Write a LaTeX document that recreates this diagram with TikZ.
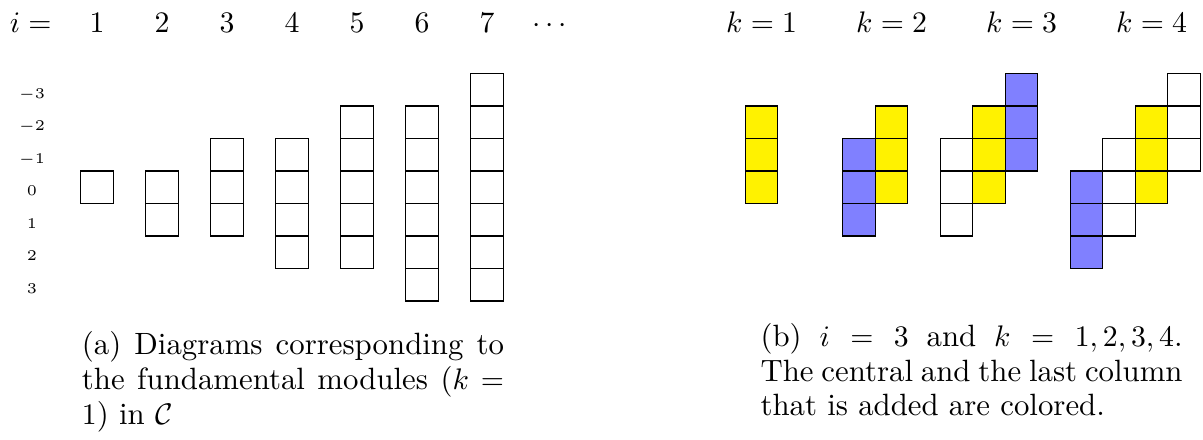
\documentclass[tikz,border=0pt]{standalone}
\usepackage{amsmath,amssymb}
\usepackage{tikz}
\usetikzlibrary{positioning}
\newcommand\capfont{\fontsize{10.35}{11.75}\selectfont}
\tikzset{
  cellbox/.style={draw=black,line width=0.4pt,fill=white},
  ycell/.style={cellbox,fill=yellow},
  bcell/.style={cellbox,fill=blue!50},
  toplab/.style={anchor=base,font=\capfont,inner sep=0pt},
  rowlab/.style={anchor=base,font=\fontsize{5.2}{6}\selectfont,inner sep=0pt},
  capt/.style={anchor=base west,text width=141.8pt,align=justify,inner sep=0pt,font=\capfont},
}

\begin{document}
\begin{tikzpicture}[x=10.92pt,y=10.92pt]
\useasboundingbox (-2.483,5.262) rectangle (34.532,-8.246);
% (a) one column per i, rows -floor((i-1)/2) .. ceil((i-1)/2)
\node[toplab,anchor=base east] (ieq) at (-0.88,4.277) {$i=$};
\foreach \i in {1,...,7}{
  \pgfmathtruncatemacro\lo{-floor((\i-1)/2)}
  \pgfmathtruncatemacro\hi{ceil((\i-1)/2)}
  \foreach \r in {\lo,...,\hi} \draw[cellbox] ({2*(\i-1)},-\r) rectangle ++(1,-1);
  \node[toplab] (t\i) at ({2*\i-1.5},4.277) {$\i$};
}
\node[toplab] (tdots) at (14.5,4.277) {$\cdots$};
\foreach \r in {-3,...,3} \node[rowlab] (r\r) at (-1.5,{-\r-0.765}) {$\r$};
\node[capt] (capa) at (0.02,-5.64) {(a) Diagrams corresponding to\linebreak the fundamental modules ($k=\penalty-10000 1$) in $\mathcal{C}$};
% (b) i=3, columns of three cells for k=1..4
\foreach \x/\t/\s in {20.45/-2/ycell,
    23.45/-1/bcell, 24.45/-2/ycell,
    26.45/-1/cellbox, 27.45/-2/ycell, 28.45/-3/bcell,
    30.45/0/bcell, 31.45/-1/cellbox, 32.45/-2/ycell, 33.45/-3/cellbox}
  \foreach \r in {0,1,2} \draw[\s] (\x,{-\t-\r}) rectangle ++(1,-1);
\foreach \k in {1,...,4} \node[toplab] (k\k) at ({20.95+4*(\k-1)},4.277) {$k=\k$};
\node[capt] (capb) at (20.9,-5.385) {(b) $i=3$ and $k=1,2,3,4$.\linebreak The central and the last column\linebreak that is added are colored.};
\end{tikzpicture}
\end{document}
